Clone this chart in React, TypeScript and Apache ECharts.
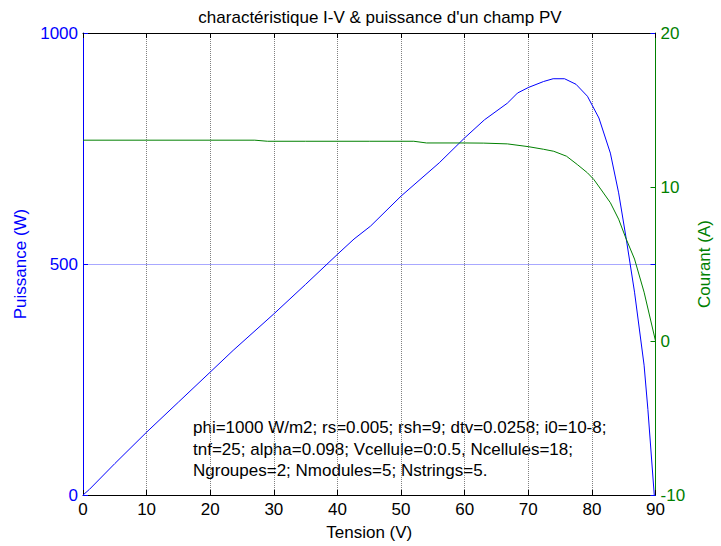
import React, { useEffect, useRef } from "react";
import * as echarts from "echarts";

const titleText = "charactéristique I-V & puissance d'un champ PV";
const xName = "Tension (V)";
const leftName = "Puissance (W)";
const rightName = "Courant (A)";
const noteLines = [
  "phi=1000 W/m2; rs=0.005; rsh=9; dtv=0.0258; i0=10-8;",
  "tnf=25; alpha=0.098; Vcellule=0:0.5, Ncellules=18;",
  "Ngroupes=2; Nmodules=5; Nstrings=5.",
];

// Power curve (W) vs voltage (V)
const powerV = [0, 1, 5, 10, 15, 20, 23.6, 30, 35, 40, 42.6, 45.2, 50, 56, 60, 63.1, 66.7, 68.3, 70, 72.4, 73.9, 75.7, 77.5, 79.3, 81.1, 82.9, 84.2, 85.4, 86.7, 88.2, 88.8, 89.8];
const powerW = [0, 12, 68, 136, 201, 266, 313, 392, 456, 521, 554, 582, 647, 719, 773, 812, 848, 870, 882, 895, 901, 901, 889, 863, 816, 740, 654, 554, 439, 281, 185, 0];

// Current curve (A) vs voltage (V)
const currentV = [0, 10, 20, 27, 29, 35, 40, 45, 52, 54, 60, 63, 66.7, 70, 72.4, 74, 76, 77.7, 79.3, 80.3, 81.6, 82.9, 84.2, 85.4, 86.7, 88.2, 90];
const currentA = [13.04, 13.04, 13.04, 13.04, 12.97, 12.97, 12.97, 12.97, 12.97, 12.86, 12.86, 12.85, 12.8, 12.62, 12.45, 12.32, 12.0, 11.46, 10.92, 10.49, 9.74, 8.98, 7.91, 6.61, 5.32, 3.17, 0];

const xMin = 0, xMax = 90, xStep = 10;
const pMin = 0, pMax = 1000, pStep = 500;
const iMin = -10, iMax = 20, iStep = 10;

const BLUE = "#0000ff";
const GREEN = "#008000";
const FONT = "'Liberation Sans', Arial, sans-serif";
const FS = 17;

const plain = (v: number) => String(v);

export default function App() {
  const ref = useRef<HTMLDivElement>(null);
  useEffect(() => {
    if (!ref.current) return;
    const chart = echarts.init(ref.current, null, { renderer: "svg" });
    const powerData = powerV.map((v, i) => [v, powerW[i]]);
    const currentData = currentV.map((v, i) => [v, currentA[i]]);
    chart.setOption({
      animation: false,
      backgroundColor: "#ffffff",
      title: {
        text: titleText,
        left: 375,
        top: 4,
        textAlign: "center",
        textStyle: { fontFamily: FONT, fontSize: FS, fontWeight: "normal", color: "#000" },
      },
      grid: { left: 83, right: 53, top: 33, bottom: 49, containLabel: false },
      xAxis: [
        {
          type: "value",
          position: "bottom",
          min: xMin,
          max: xMax,
          interval: xStep,
          name: xName,
          nameLocation: "middle",
          nameGap: 29,
          nameTextStyle: { fontFamily: FONT, fontSize: FS, color: "#000" },
          axisLine: { show: true, onZero: false, lineStyle: { color: "#000", width: 1 } },
          axisTick: { show: true, inside: true, length: 5, lineStyle: { color: "#000" } },
          axisLabel: { margin: 6, fontFamily: FONT, fontSize: FS, color: "#000", formatter: plain },
          splitLine: { show: true, lineStyle: { color: "#808080", width: 1, type: [1, 1] } },
        },
        {
          type: "value",
          position: "top",
          min: xMin,
          max: xMax,
          interval: xStep,
          axisLine: { show: true, onZero: false, lineStyle: { color: "#000", width: 1 } },
          axisTick: { show: true, inside: true, length: 5, lineStyle: { color: "#000" } },
          axisLabel: { show: false },
          splitLine: { show: false },
        },
      ],
      yAxis: [
        {
          type: "value",
          position: "left",
          min: pMin,
          max: pMax,
          interval: pStep,
          name: leftName,
          nameLocation: "middle",
          nameRotate: 90,
          nameGap: 54,
          nameTextStyle: { fontFamily: FONT, fontSize: FS, color: BLUE },
          axisLine: { show: true, onZero: false, lineStyle: { color: BLUE, width: 1 } },
          axisTick: { show: true, inside: true, length: 5, lineStyle: { color: BLUE } },
          axisLabel: { margin: 5, fontFamily: FONT, fontSize: FS, color: BLUE, formatter: plain },
          splitLine: { show: true, lineStyle: { color: "#a8a8ff", width: 1, type: "solid" } },
        },
        {
          type: "value",
          position: "right",
          min: iMin,
          max: iMax,
          interval: iStep,
          name: rightName,
          nameLocation: "middle",
          nameRotate: 90,
          nameGap: 36,
          nameTextStyle: { fontFamily: FONT, fontSize: FS, color: GREEN },
          axisLine: { show: true, onZero: false, lineStyle: { color: GREEN, width: 1 } },
          axisTick: { show: true, inside: true, length: 5, lineStyle: { color: GREEN } },
          axisLabel: { margin: 5, fontFamily: FONT, fontSize: FS, color: GREEN, formatter: plain },
          splitLine: { show: false },
        },
        {
          type: "value",
          position: "right",
          min: pMin,
          max: pMax,
          interval: pStep,
          axisLine: { show: false, onZero: false },
          axisTick: { show: true, inside: true, length: 5, lineStyle: { color: BLUE } },
          axisLabel: { show: false },
          splitLine: { show: false },
        },
      ],
      graphic: [
        {
          type: "text",
          left: 193,
          top: 417,
          style: {
            text: noteLines.join("\n"),
            fontFamily: FONT,
            fontSize: FS,
            lineHeight: 21.5,
            fill: "#000",
          },
        },
      ],
      series: [
        {
          type: "line",
          name: leftName,
          xAxisIndex: 0,
          yAxisIndex: 0,
          data: powerData,
          showSymbol: false,
          symbol: "none",
          lineStyle: { color: BLUE, width: 1 },
          itemStyle: { color: BLUE },
        },
        {
          type: "line",
          name: rightName,
          xAxisIndex: 0,
          yAxisIndex: 1,
          data: currentData,
          showSymbol: false,
          symbol: "none",
          lineStyle: { color: GREEN, width: 1 },
          itemStyle: { color: GREEN },
        },
      ],
    });
    return () => chart.dispose();
  }, []);
  return (
    <div
      ref={ref}
      style={{ position: "fixed", left: 0, top: 0, width: 721, height: 546, background: "#fff" }}
    />
  );
}
